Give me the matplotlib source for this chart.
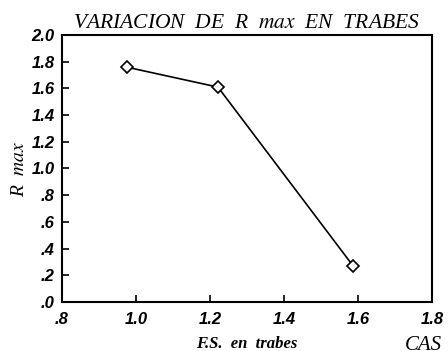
import matplotlib.pyplot as plt
import numpy as np

plt.rcParams['mathtext.fontset'] = 'stix'

# 数据
fs_trabes = [0.975, 1.222, 1.587]
r_max = [1.76, 1.61, 0.27]

x_ticks = [0.8, 1.0, 1.2, 1.4, 1.6, 1.8]
x_labels = ['.8', '1.0', '1.2', '1.4', '1.6', '1.8']
y_ticks = [0.0, 0.2, 0.4, 0.6, 0.8, 1.0, 1.2, 1.4, 1.6, 1.8, 2.0]
y_labels = ['.0', '.2', '.4', '.6', '.8', '1.0', '1.2', '1.4', '1.6', '1.8', '2.0']

fig = plt.figure(figsize=(4.48, 3.51), dpi=100)
ax = fig.add_axes([0.138, 0.140, 0.826, 0.760])

ax.plot(fs_trabes, r_max, color='black', linewidth=1.2,
        marker='D', markersize=6, markerfacecolor='white',
        markeredgecolor='black', markeredgewidth=1.2)

ax.set_xlim(0.8, 1.8)
ax.set_ylim(0.0, 2.0)

tick_font = dict(family='Liberation Sans', weight='bold', style='italic', size=12)
ax.set_xticks(x_ticks)
ax.set_xticklabels(x_labels, fontdict=tick_font)
ax.set_yticks(y_ticks)
ax.set_yticklabels(y_labels, fontdict=tick_font)
ax.tick_params(direction='in', length=5, width=1.2, colors='black', pad=5)
ax.tick_params(axis='x', pad=7)

for s in ax.spines.values():
    s.set_linewidth(1.5)

ax.set_title(r'VARIACION  DE  R  $max$  EN  TRABES',
             fontfamily='Liberation Serif', fontstyle='italic', fontsize=15.5, pad=5)
ax.set_xlabel('F.S.  en  trabes', fontfamily='Liberation Serif',
              fontstyle='italic', fontweight='bold', fontsize=12, labelpad=7)
ax.set_ylabel(r'R  $max$', fontfamily='Liberation Serif',
              fontstyle='italic', fontsize=14, labelpad=3)

fig.text(405 / 448, 1 - 336 / 351, 'CAS', fontfamily='Liberation Serif',
         fontstyle='italic', fontsize=15, va='top', ha='left')

fig.savefig('out.png', dpi=100)
